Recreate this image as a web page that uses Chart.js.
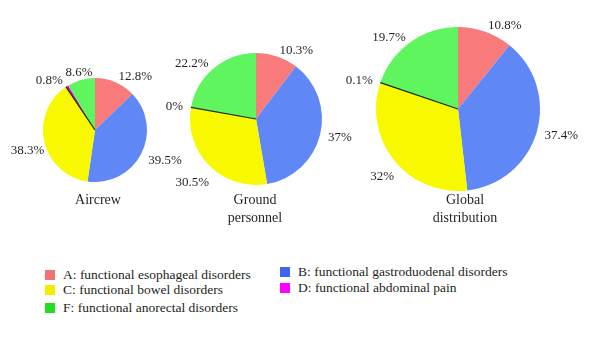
<!DOCTYPE html>
<html>
<head>
    <title>FGID distribution</title>
    <script src="https://cdn.jsdelivr.net/npm/chart.js@4"></script>
    <style>
        body {
            margin: 0;
            width: 600px;
            height: 338px;
            background: #fff;
            position: relative;
            overflow: hidden;
            font-family: "Liberation Serif", "DejaVu Serif", "Times New Roman", Times, serif;
            color: #231f20;
        }
        canvas { position: absolute; }
        .title {
            position: absolute;
            width: 120px;
            text-align: center;
            font-size: 14px;
            line-height: 18px;
        }
        .leg {
            position: absolute;
            font-size: 13.5px;
            line-height: 16px;
            white-space: nowrap;
        }
        .leg span {
            display: inline-block;
            width: 10px;
            height: 10px;
            margin-right: 8px;
            vertical-align: -1px;
        }
    </style>
</head>
<body>
<canvas id="aircrew" width="200" height="175" style="left:0px;top:55px"></canvas>
<canvas id="ground" width="200" height="200" style="left:160px;top:30px"></canvas>
<canvas id="global" width="270" height="235" style="left:330px;top:0px"></canvas>

<div class="title" style="left:38px;top:191px">Aircrew</div>
<div class="title" style="left:195px;top:191px">Ground<br>personnel</div>
<div class="title" style="left:405px;top:191px">Global<br>distribution</div>

<div id="legend"></div>

<script>
    // categories A..F, drawn clockwise from 12 o'clock
    const categories = ['A: functional esophageal disorders', 'B: functional gastroduodenal disorders',
        'C: functional bowel disorders', 'D: functional abdominal pain', 'F: functional anorectal disorders'];
    const aircrew = [12.8, 39.5, 38.3, 0.8, 8.6];
    const groundPersonnel = [10.3, 37, 30.5, 0, 22.2];
    const globalDist = [10.8, 37.4, 32, 0.1, 19.7];

    const sliceColors = ['#f87a7a', '#5f88f6', '#f8f800', '#ee00ee', '#5ff55f'];
    const legendColors = ['#f07272', '#3f66e8', '#f2ee00', '#ff00ff', '#22dd22'];

    const serif = '"Liberation Serif", "DejaVu Serif", "Times New Roman", serif';

    // percent labels next to each slice + dark edge on the D slice
    const pctLabels = {
        id: 'pctLabels',
        afterDatasetsDraw(chart) {
            const ctx = chart.ctx;
            const meta = chart.getDatasetMeta(0);
            const vals = chart.data.datasets[0].data;
            ctx.save();
            // D edge line
            const d = meta.data[3];
            ctx.strokeStyle = '#1a2a10';
            ctx.lineWidth = 1.2;
            ctx.beginPath();
            ctx.moveTo(d.x, d.y);
            ctx.lineTo(d.x + Math.cos(d.startAngle) * d.outerRadius, d.y + Math.sin(d.startAngle) * d.outerRadius);
            ctx.stroke();

            ctx.font = '13px ' + serif;
            ctx.fillStyle = '#231f20';
            ctx.textBaseline = 'middle';
            meta.data.forEach((arc, i) => {
                const mid = (arc.startAngle + arc.endAngle) / 2;
                const dx = Math.cos(mid), dy = Math.sin(mid);
                const px = arc.x + dx * arc.outerRadius;
                const py = arc.y + dy * arc.outerRadius;
                let x = px + dx * 8;
                let y = py + (dy > 0 ? dy * 14 : dy * 6);
                if (dx < -0.3 && dy > 0) {
                    // lower-left labels sit under the rim
                    x = px;
                    y = py + dy * 16 + 6;
                }
                if (dx > 0.3) ctx.textAlign = 'left';
                else if (dx < -0.3) ctx.textAlign = 'right';
                else { ctx.textAlign = 'center'; y -= 2; }
                ctx.fillText(vals[i] + '%', x, y);
            });
            ctx.restore();
        }
    };

    function makePie(id, values, pad) {
        return new Chart(document.getElementById(id), {
            type: 'pie',
            data: {
                labels: categories,
                datasets: [{
                    data: values,
                    backgroundColor: sliceColors,
                    borderWidth: 0
                }]
            },
            options: {
                responsive: false,
                animation: false,
                layout: { padding: pad },
                plugins: {
                    legend: { display: false },
                    tooltip: { enabled: false }
                }
            },
            plugins: [pctLabels]
        });
    }

    makePie('aircrew', aircrew, { left: 43, right: 53, top: 23, bottom: 48 });
    makePie('ground', groundPersonnel, { left: 30, right: 38, top: 23, bottom: 45 });
    makePie('global', globalDist, { left: 46, right: 60, top: 27, bottom: 44 });

    // legend: two columns (A, C, F) and (B, D)
    const legendPos = [
        [45, 267], [280, 264], [45, 282], [280, 280], [45, 300]
    ];
    const legend = document.getElementById('legend');
    categories.forEach((name, i) => {
        const el = document.createElement('div');
        el.className = 'leg';
        el.style.left = legendPos[i][0] + 'px';
        el.style.top = legendPos[i][1] + 'px';
        el.innerHTML = '<span style="background:' + legendColors[i] + '"></span>' + name;
        legend.appendChild(el);
    });
</script>
</body>
</html>
